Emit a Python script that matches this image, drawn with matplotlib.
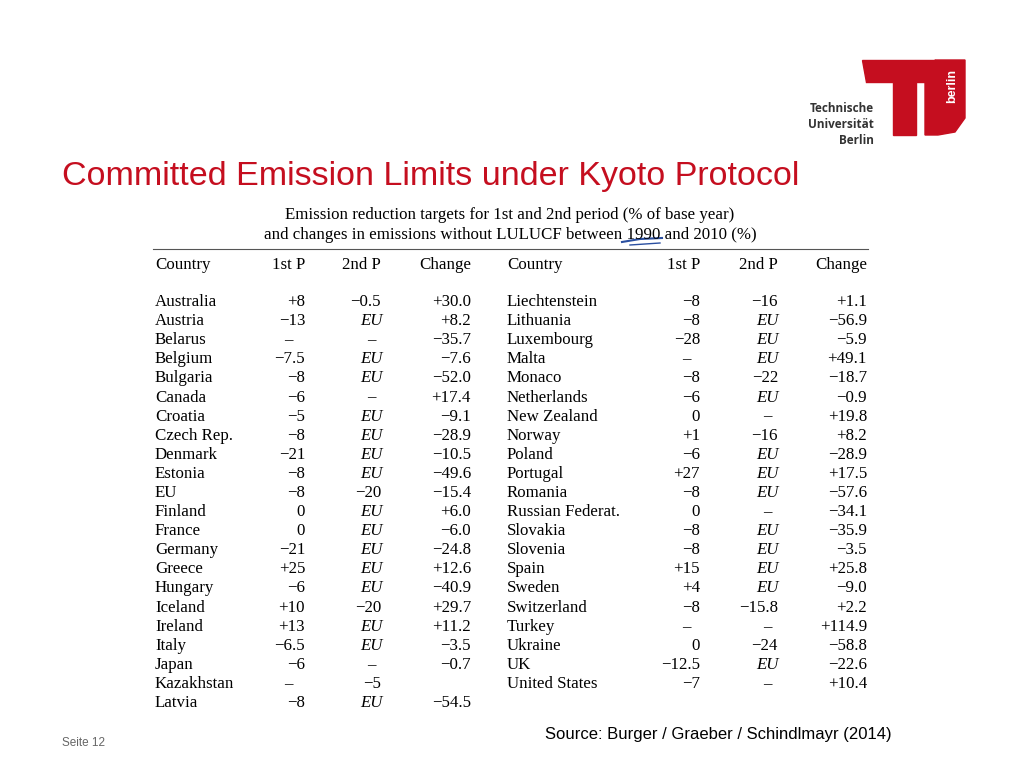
import matplotlib.pyplot as plt
from matplotlib.patches import Polygon

left_country = ["Australia", "Austria", "Belarus", "Belgium", "Bulgaria", "Canada", "Croatia",
                "Czech Rep.", "Denmark", "Estonia", "EU", "Finland", "France", "Germany", "Greece",
                "Hungary", "Iceland", "Ireland", "Italy", "Japan", "Kazakhstan", "Latvia"]
left_p1 = ["+8", "−13", "–", "−7.5", "−8", "−6", "−5", "−8", "−21", "−8", "−8", "0", "0", "−21",
           "+25", "−6", "+10", "+13", "−6.5", "−6", "–", "−8"]
left_p2 = ["−0.5", "EU", "–", "EU", "EU", "–", "EU", "EU", "EU", "EU", "−20", "EU", "EU", "EU",
           "EU", "EU", "−20", "EU", "EU", "–", "−5", "EU"]
left_chg = ["+30.0", "+8.2", "−35.7", "−7.6", "−52.0", "+17.4", "−9.1", "−28.9", "−10.5", "−49.6",
            "−15.4", "+6.0", "−6.0", "−24.8", "+12.6", "−40.9", "+29.7", "+11.2", "−3.5", "−0.7",
            "", "−54.5"]

right_country = ["Liechtenstein", "Lithuania", "Luxembourg", "Malta", "Monaco", "Netherlands",
                 "New Zealand", "Norway", "Poland", "Portugal", "Romania", "Russian Federat.",
                 "Slovakia", "Slovenia", "Spain", "Sweden", "Switzerland", "Turkey", "Ukraine",
                 "UK", "United States"]
right_p1 = ["−8", "−8", "−28", "–", "−8", "−6", "0", "+1", "−6", "+27", "−8", "0", "−8", "−8",
            "+15", "+4", "−8", "–", "0", "−12.5", "−7"]
right_p2 = ["−16", "EU", "EU", "EU", "−22", "EU", "–", "−16", "EU", "EU", "EU", "–", "EU", "EU",
            "EU", "EU", "−15.8", "–", "−24", "EU", "–"]
right_chg = ["+1.1", "−56.9", "−5.9", "+49.1", "−18.7", "−0.9", "+19.8", "+8.2", "−28.9", "+17.5",
             "−57.6", "−34.1", "−35.9", "−3.5", "+25.8", "−9.0", "+2.2", "+114.9", "−58.8",
             "−22.6", "+10.4"]

headers = ["Country", "1st P", "2nd P", "Change"]

fig = plt.figure(figsize=(10.24, 7.68), dpi=100)
ax = fig.add_axes([0, 0, 1, 1])
ax.set_xlim(0, 1024)
ax.set_ylim(768, 0)
ax.axis("off")

red = "#c50e1f"
serif = "Liberation Serif"
fs = 12.2

# title
ax.text(62, 177, "Committed Emission Limits under Kyoto Protocol", color=red, fontsize=24.5,
        family="Liberation Sans", va="center")

# logo
ax.add_patch(Polygon([(862, 60), (935, 60), (935, 82), (916, 82), (916, 135), (893, 135),
                      (893, 82), (866, 82)], color=red))
ax.add_patch(Polygon([(935, 60), (965, 60), (965, 118), (955, 132), (938, 135), (925, 135),
                      (925, 82), (935, 82)], color=red))
ax.text(952, 86, "berlin", color="white", rotation=90, fontsize=9, ha="center", va="center",
        family="Liberation Sans", fontweight="bold")
for i, t in enumerate(["Technische", "Universität", "Berlin"]):
    ax.text(874, 108 + i * 16.5, t, ha="right", va="center", fontsize=8.5, color="#333333",
            fontweight="bold", family="Open Sans")

# caption
ax.text(510, 215, "Emission reduction targets for 1st and 2nd period (% of base year)",
        ha="center", va="center", family=serif, fontsize=fs)
ax.text(510, 235, "and changes in emissions without LULUCF between 1990 and 2010 (%)",
        ha="center", va="center", family=serif, fontsize=fs)
ax.plot([622, 640, 662], [242, 239, 238], color="#2a4fa0", lw=1.5)
ax.plot([630, 660], [245, 243], color="#2a4fa0", lw=1)

ax.plot([153, 868], [249, 249], color="#555555", lw=0.8)

def draw_block(x0, p1_r, p1_c, p2_r, p2_c, chg_r, countries, p1, p2, chg):
    ax.text(x0, 265, headers[0], va="center", family=serif, fontsize=fs)
    ax.text(p1_r, 265, headers[1], va="center", ha="right", family=serif, fontsize=fs)
    ax.text(p2_r, 265, headers[2], va="center", ha="right", family=serif, fontsize=fs)
    ax.text(chg_r, 265, headers[3], va="center", ha="right", family=serif, fontsize=fs)
    for i, c in enumerate(countries):
        y = 302 + i * 19.1
        ax.text(x0, y, c, va="center", family=serif, fontsize=fs)
        if p1[i] == "–":
            ax.text(p1_c, y, p1[i], va="center", ha="center", family=serif, fontsize=fs)
        else:
            ax.text(p1_r, y, p1[i], va="center", ha="right", family=serif, fontsize=fs)
        if p2[i] in ("–", "EU"):
            ax.text(p2_c, y, p2[i], va="center", ha="center", family=serif, fontsize=fs,
                    style="italic" if p2[i] == "EU" else "normal")
        else:
            ax.text(p2_r, y, p2[i], va="center", ha="right", family=serif, fontsize=fs)
        ax.text(chg_r, y, chg[i], va="center", ha="right", family=serif, fontsize=fs)

draw_block(155, 305, 288, 381, 371, 471, left_country, left_p1, left_p2, left_chg)
draw_block(507, 700, 686, 778, 767, 867, right_country, right_p1, right_p2, right_chg)

ax.text(545, 735, "Source: Burger / Graeber / Schindlmayr (2014)", va="center", fontsize=12,
        family="Liberation Sans")
ax.text(62, 743, "Seite 12", va="center", fontsize=8.5, color="#666666", family="Liberation Sans")

fig.savefig("out.png", dpi=100)
